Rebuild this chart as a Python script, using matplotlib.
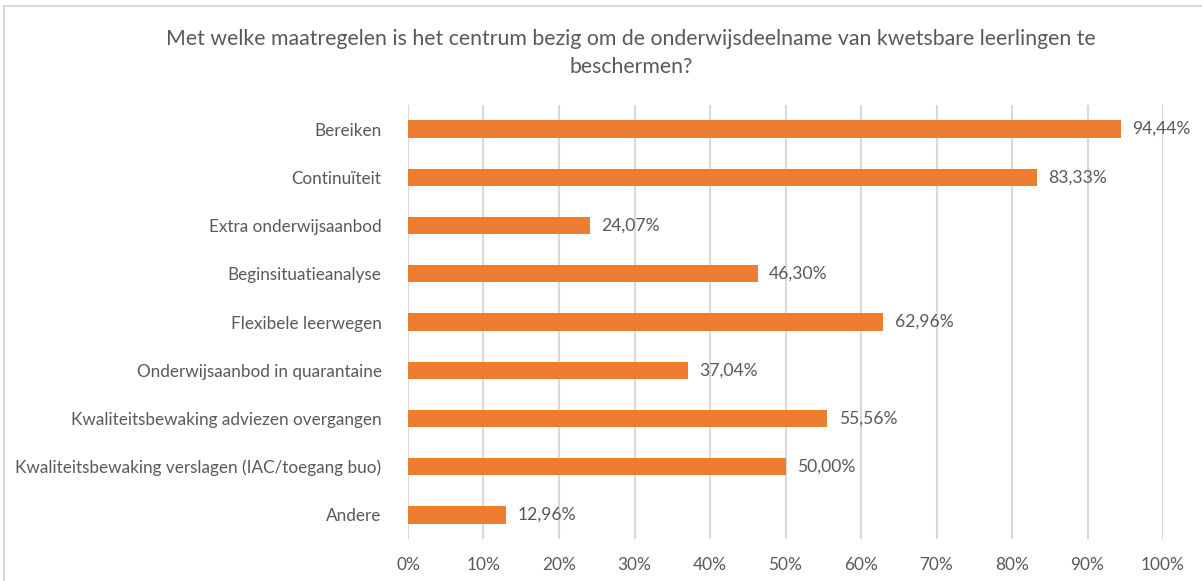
import matplotlib
matplotlib.use("Agg")
import matplotlib.pyplot as plt
from matplotlib.patches import Rectangle

categories = [
    "Bereiken",
    "Continuïteit",
    "Extra onderwijsaanbod",
    "Beginsituatieanalyse",
    "Flexibele leerwegen",
    "Onderwijsaanbod in quarantaine",
    "Kwaliteitsbewaking adviezen overgangen",
    "Kwaliteitsbewaking verslagen (IAC/toegang buo)",
    "Andere",
]
values = [94.44, 83.33, 24.07, 46.30, 62.96, 37.04, 55.56, 50.00, 12.96]
xticks = [0, 10, 20, 30, 40, 50, 60, 70, 80, 90, 100]
title = "Met welke maatregelen is het centrum bezig om de onderwijsdeelname van kwetsbare leerlingen te\nbeschermen?"

FONT = ["Lato", "DejaVu Sans"]
plt.rcParams["font.family"] = FONT
TXT = "#595959"
BAR = "#ED7D31"
GRID = "#D9D9D9"

W, H = 1202, 581
fig = plt.figure(figsize=(W / 100, H / 100), dpi=100)
ax = fig.add_axes([408 / W, 1 - 539 / H, (1163 - 408) / W, (539 - 105) / H])

y = list(range(len(categories)))
ax.barh(y, values, height=0.36, color=BAR, zorder=3)
ax.set_ylim(len(categories) - 0.5, -0.5)
ax.set_xlim(0, 100)
ax.set_yticks(y)
ax.set_yticklabels(categories, fontsize=12.3, color=TXT)
ax.set_xticks(xticks)
ax.set_xticklabels([f"{t}%" for t in xticks], fontsize=12.4, color=TXT)
ax.tick_params(axis="both", length=0)
ax.tick_params(axis="y", pad=19)
ax.tick_params(axis="x", pad=13)
ax.grid(axis="x", color=GRID, linewidth=1.5, zorder=0)
for s in ax.spines.values():
    s.set_visible(False)

for yi, v in zip(y, values):
    ax.text(v + 1.5, yi, f"{v:.2f}%".replace(".", ","), va="center", ha="left",
            fontsize=12.6, color=TXT, zorder=4)

fig.text(631 / W, 1 - 53 / H, title, ha="center", va="center", fontsize=15.3,
         color=TXT, linespacing=1.55)

fig.patches.append(Rectangle((4 / W, -0.1), 1.2, (H - 6) / H + 0.1, transform=fig.transFigure,
                             fill=False, edgecolor=GRID, linewidth=1.5))

fig.savefig("out.png", dpi=100)
